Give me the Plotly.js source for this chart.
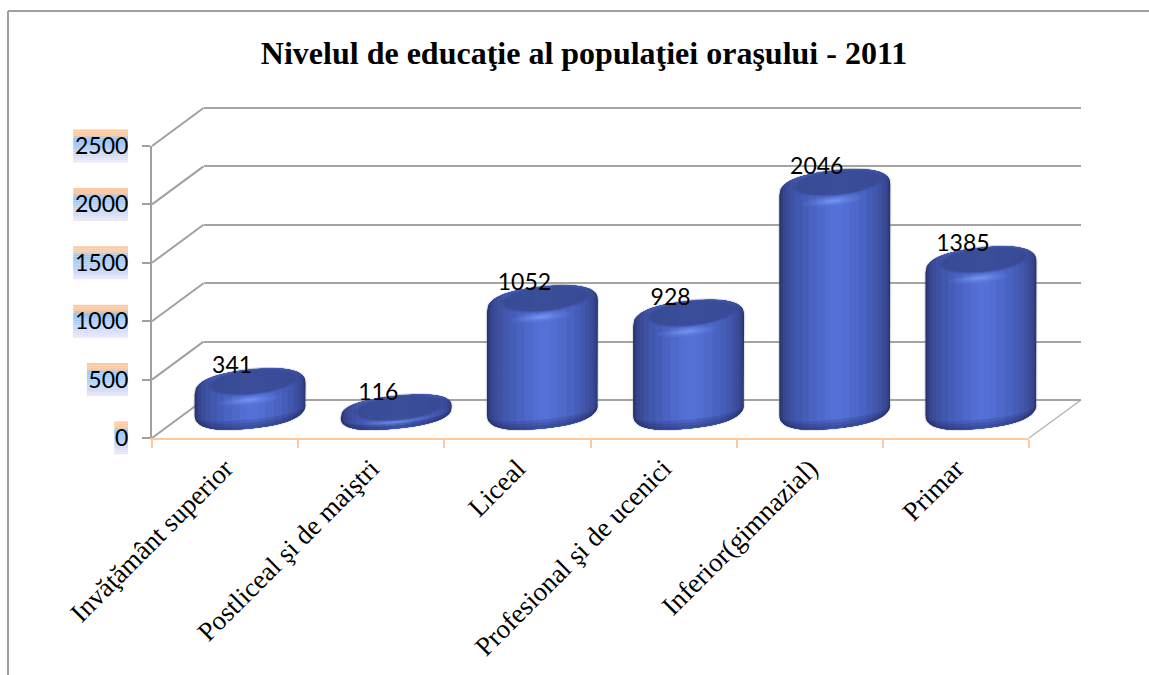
<!DOCTYPE html>
<html><head><meta charset="utf-8">
<script src="https://cdn.plot.ly/plotly-3.0.1.min.js"></script>
<style>html,body{margin:0;padding:0;background:#fff}#c{width:1149px;height:675px}</style>
</head><body><div id="c"></div>
<script>
const categories = ["Invăţământ superior","Postliceal şi de maiştri","Liceal","Profesional şi de ucenici","Inferior(gimnazial)","Primar"];
const values = [341,116,1052,928,2046,1385];
const yTicks = [0,500,1000,1500,2000,2500];
const chartTitle = "Nivelul de educaţie al populaţiei oraşului - 2011";

const W=1149,H=675, GRAY='#a0a0a0', PEACH='#fcc9a0';
const xd=p=>p/W, yd=p=>1-p/H;
const UX=877/6, UY=292/2500;           // px per category, px per value
const idx=categories.map((_,i)=>i);

/* ---- cylinder geometry, pixels relative to (category centre, value 0) on the mid plane ---- */
const A=55.5,B=9.5,R=10,S=-0.1,N=2.5;
const toX=(i,dx)=>i+dx/UX, toY=dy=>-dy/UY;
const f=(x,a)=>Math.pow(Math.max(0,1-Math.pow(Math.abs(x/a),N)),1/N);
const hPx=v=>v*UY;
function yT(x,v,g=0,a=A){const h=hPx(v),r=Math.min(R,h/2);return -h+r-(B+r+g)*f(x,a)+S*x;}
function yB(x,v,g=0,a=A){const h=hPx(v),r=Math.min(R,h/2);return -r+(B+r+g)*f(x,a)+S*x;}
function sample(l,r,a=A,n=30){const t0=Math.asin(Math.max(-1,l/a)),t1=Math.asin(Math.min(1,r/a)),o=[];
  for(let k=0;k<=n;k++)o.push(a*Math.sin(t0+(t1-t0)*k/n));return o;}
function poly(build,color){const xs=[],ys=[];
  values.forEach((v,i)=>{build(v,i).forEach(p=>{xs.push(toX(i,p[0]));ys.push(toY(p[1]));});xs.push(null);ys.push(null);});
  return {type:'scatter',mode:'lines',x:xs,y:ys,xaxis:'x2',yaxis:'y2',fill:'toself',fillcolor:color,line:{width:0},hoverinfo:'skip',showlegend:false,connectgaps:false};}
function strip(l,r,color,g=0,a=A){return poly(v=>{const xs=sample(l,r,a);
  return xs.map(x=>[x,yT(x,v,g,a)]).concat(xs.slice().reverse().map(x=>[x,yB(x,v,g,a)]));},color);}
function ell(cxf,cyf,a,bf,color,sh=S){return poly(v=>{const o=[];const cx=cxf(v),cy=cyf(v),b=bf(v);
  for(let k=0;k<=40;k++){const t=2*Math.PI*k/40,x=a*Math.cos(t);o.push([cx+x,cy+b*Math.sin(t)+sh*x]);}return o;},color);}
function hexMix(c1,c2,t){const p=c=>[1,3,5].map(i=>parseInt(c.substr(i,2),16));const a=p(c1),b=p(c2);
  return 'rgb('+a.map((q,i)=>Math.round(q+(b[i]-q)*t)).join(',')+')';}

const traces=[];
/* back wall: grid only */
traces.push({type:'scatter',x:[0,1],y:[0,2500],xaxis:'x',yaxis:'y',mode:'none',hoverinfo:'skip',showlegend:false});
/* soft halo */
traces.push(strip(-A-1.2,A+1.2,'rgba(130,130,130,0.22)',1.2,A+1.2));
/* real bars */
traces.push({type:'bar',x:idx,y:values,width:0.55,xaxis:'x2',yaxis:'y2',marker:{color:'#4a62c0',line:{width:0}},hoverinfo:'skip',showlegend:false});
/* horizontal shading of the cylinder body: outer to inner */
const edgeL=[-55.5,-54,-52,-49,-45,-40,-33,-26,-18,-10,-4], edgeR=[55.5,54.5,53,50.5,47,43,38,32,24,15,8];
const shade=['#27336c','#2f3d80','#35468f','#3a4c98','#3e51a3','#4257ae','#465db8','#4a63c2','#4e69ca','#526ed2','#5571d7'];
edgeL.forEach((l,k)=>traces.push(strip(l,edgeR[k],shade[k])));
/* bottom darkening */
[9,6,3].forEach(d=>traces.push(poly(v=>{const xs=sample(-A,A),h=Math.min(d,hPx(v)/3+1);
  return xs.map(x=>[x,yB(x,v)]).concat(xs.slice().reverse().map(x=>[x,yB(x,v)-h*f(x,A)]));},'rgba(25,30,80,0.16)')));
/* shoulder highlight */
const hlY=v=>-hPx(v)+Math.min(21,13+hPx(v)*0.2);
[[30,5,0.10],[22,3.6,0.16],[14,2.4,0.24],[8,1.5,0.3]].forEach(q=>traces.push(ell(()=>-2,hlY,q[0],()=>q[1],'rgba(130,165,255,'+q[2]+')')));
/* top cap */
[[47,14.2,0.12],[45,13.5,0.18],[43.5,12.8,0.25],[42,12.2,0.4],[41,11.8,0.6]].forEach(q=>traces.push(ell(()=>3,v=>-hPx(v)+2.5,q[0],()=>q[1],'rgba(55,73,145,'+q[2]+')')));
/* data labels */
traces.push({type:'scatter',mode:'text',x:idx.map(i=>toX(i,-18)),y:values,xaxis:'x2',yaxis:'y2',
  text:values.map(String),textposition:'top center',textfont:{family:'Lato, Carlito, sans-serif',size:23,color:'#000'},hoverinfo:'skip',showlegend:false,cliponaxis:false});
/* front axes carry the categories and the value ticks */
traces.push({type:'scatter',x:categories,y:values,xaxis:'x3',yaxis:'y3',mode:'markers',marker:{opacity:0,size:1},hoverinfo:'skip',showlegend:false});

/* ---- decoration: frame, depth lines, tick label backgrounds ---- */
const shapes=[];
const line=(x0,y0,x1,y1,c,w)=>shapes.push({type:'line',xref:'paper',yref:'paper',x0:xd(x0),x1:xd(x1),y0:yd(y0),y1:yd(y1),line:{color:c,width:w},layer:'below'});
line(8,11,W,11,GRAY,2); line(8,11,8,H,GRAY,2);
yTicks.forEach(t=>line(152,438-t*UY,203.5,400-t*UY,GRAY,2));
line(1029,438,1081,400,'#b4b4b4',1.5);
const bandStops=[[0,'#fcc9a0'],[0.16,'#fcc9a0'],[0.3,'#90c4fc'],[0.58,'#b4d0f6'],[1,'#efe7f8']];
function band(t){for(let k=1;k<bandStops.length;k++){if(t<=bandStops[k][0]){const a=bandStops[k-1],b=bandStops[k];return hexMix(a[1],b[1],(t-a[0])/(b[0]-a[0]));}}return bandStops[4][1];}
yTicks.forEach(t=>{const cy=438-t*UY,wd=String(t).length*13.7,n=16;
  for(let k=0;k<n;k++){const y0=cy-16.5+33*k/n,y1=cy-16.5+33*(k+1)/n;
    shapes.push({type:'rect',xref:'paper',yref:'paper',x0:xd(128-wd),x1:xd(128),y0:yd(y0),y1:yd(y1),fillcolor:band((k+0.5)/n),line:{width:0},layer:'below'});}});

const hideAxis={showgrid:false,zeroline:false,showline:false,ticks:'',showticklabels:false,fixedrange:true};
const layout={
  width:W,height:H,margin:{l:0,r:0,t:0,b:0},paper_bgcolor:'#fff',plot_bgcolor:'rgba(0,0,0,0)',showlegend:false,barmode:'overlay',
  title:{text:'<b>'+chartTitle+'</b>',x:584/W,xanchor:'center',y:1-53/H,yanchor:'middle',font:{family:'"Liberation Serif","Times New Roman",serif',size:32,color:'#000'}},
  xaxis:{...hideAxis,domain:[xd(203.5),xd(1081)],range:[0,1],anchor:'y'},
  yaxis:{...hideAxis,domain:[yd(410),yd(97)],range:[(400-410)/UY,(400-97)/UY],anchor:'x',showgrid:true,gridcolor:'#a4a4a4',gridwidth:2,tickmode:'array',tickvals:yTicks,zeroline:false},
  xaxis2:{...hideAxis,domain:[xd(177),xd(1054)],range:[-0.5,5.5],anchor:'y2'},
  yaxis2:{...hideAxis,domain:[yd(450),yd(100)],range:[(419-450)/UY,(419-100)/UY],anchor:'x2'},
  xaxis3:{type:'category',categoryorder:'array',categoryarray:categories,domain:[xd(152),xd(1029)],range:[-0.5,5.5],anchor:'y3',
    tickson:'boundaries',ticks:'outside',ticklen:8,tickwidth:2,tickcolor:PEACH,showline:true,linecolor:PEACH,linewidth:2,showgrid:false,zeroline:false,
    tickangle:-45,ticklabelstandoff:2,tickfont:{family:'"Liberation Serif","Times New Roman",serif',size:27,color:'#000'},automargin:false,fixedrange:true},
  yaxis3:{domain:[yd(438),yd(146)],range:[0,2500],anchor:'x3',tickmode:'array',tickvals:yTicks,ticks:'outside',ticklen:8,tickwidth:2,tickcolor:GRAY,
    showline:true,linecolor:GRAY,linewidth:2,showgrid:false,zeroline:false,ticklabelstandoff:9,tickfont:{family:'Lato, Carlito, sans-serif',size:23,color:'#000'},automargin:false,fixedrange:true},
  shapes:shapes
};
Plotly.newPlot('c',traces,layout,{displayModeBar:false,staticPlot:true});
</script></body></html>
